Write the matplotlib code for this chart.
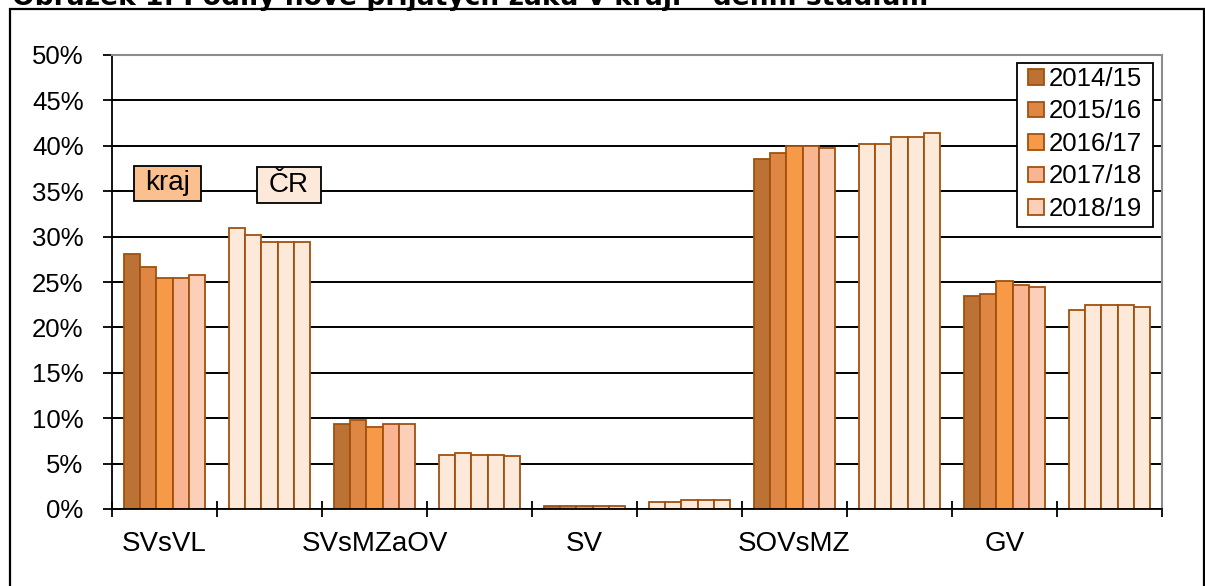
import matplotlib
matplotlib.use("Agg")
import matplotlib.pyplot as plt
from matplotlib.patches import Rectangle, Patch
import numpy as np

years = ["2014/15", "2015/16", "2016/17", "2017/18", "2018/19"]
categories = ["SVsVL", "SVsMZaOV", "SV", "SOVsMZ", "GV"]
# values in percent, one list per category, one value per school year
kraj = {
    "SVsVL":    [28.1, 26.6, 25.4, 25.4, 25.8],
    "SVsMZaOV": [9.4, 9.8, 9.0, 9.4, 9.4],
    "SV":       [0.35, 0.35, 0.35, 0.35, 0.35],
    "SOVsMZ":   [38.6, 39.2, 40.0, 40.0, 39.8],
    "GV":       [23.5, 23.7, 25.1, 24.7, 24.5],
}
cr = {
    "SVsVL":    [31.0, 30.2, 29.4, 29.4, 29.4],
    "SVsMZaOV": [6.0, 6.2, 6.0, 6.0, 5.8],
    "SV":       [0.8, 0.8, 1.0, 1.0, 1.0],
    "SOVsMZ":   [40.2, 40.2, 41.0, 41.0, 41.4],
    "GV":       [21.9, 22.5, 22.5, 22.5, 22.3],
}
yticks = [0, 5, 10, 15, 20, 25, 30, 35, 40, 45, 50]
ytick_labels = [f"{v}%" for v in yticks]

year_colors = ["#BC7235", "#DE8644", "#F79A48", "#F9B591", "#FCCFB9"]
cr_color = "#FDE9DA"
edge = "#A0500F"

W, H = 1205, 586
fig = plt.figure(figsize=(W / 100, H / 100), dpi=100)
plt.rcParams["font.family"] = ["Liberation Sans", "DejaVu Sans"]
FS = 18.5
FS_X = 20

L, R, T, B = 112, 1162, 55, 509
ax = fig.add_axes([L / W, 1 - B / H, (R - L) / W, (B - T) / H])

def ax_x(px):
    return (px - L) / (R - L)

def ax_y(py):
    return (B - py) / (B - T)

n = len(years)
group_w = 0.78
bw = group_w / n
for ci, cat in enumerate(categories):
    for src, base in ((kraj, 2 * ci), (cr, 2 * ci + 1)):
        for yi in range(n):
            x = base - group_w / 2 + bw * (yi + 0.5)
            col = year_colors[yi] if src is kraj else cr_color
            ax.bar(x, src[cat][yi], width=bw, color=col, edgecolor=edge,
                   linewidth=1.3, zorder=3)

ax.set_xlim(-0.5, 2 * len(categories) - 0.5)
ax.set_ylim(0, 50)
ax.set_yticks(yticks)
ax.set_yticklabels(ytick_labels, fontsize=FS)
ax.set_xticks(np.arange(-0.5, 2 * len(categories), 1.0))
ax.set_xticklabels([])
ax.set_xticks(np.arange(0, 2 * len(categories), 2), minor=True)
ax.set_xticklabels(categories, minor=True, fontsize=FS_X)
ax.tick_params(axis="x", which="minor", length=0, pad=16)
ax.tick_params(axis="x", which="major", direction="inout", length=12, width=1.3)
ax.tick_params(axis="y", direction="inout", length=13, width=1.3, pad=14)

ax.yaxis.grid(True, color="black", linewidth=1.4, zorder=0)
ax.set_axisbelow(True)
for s in ("left", "bottom"):
    ax.spines[s].set_color("black")
    ax.spines[s].set_linewidth(1.3)
    ax.spines[s].set_zorder(4)
for s in ("top", "right"):
    ax.spines[s].set_color("#8C8C8C")
    ax.spines[s].set_linewidth(1.5)
    ax.spines[s].set_zorder(4)

# annotation boxes
ax.add_patch(Rectangle((-0.290, 33.9), 0.635, 3.9, facecolor="#FAC090",
                       edgecolor="black", linewidth=1.3, zorder=5))
ax.text(0.028, 35.85, "kraj", fontsize=FS_X, ha="center", va="center", zorder=6)
ax.add_patch(Rectangle((0.878, 33.7), 0.612, 4.0, facecolor=cr_color,
                       edgecolor="black", linewidth=1.3, zorder=5))
ax.text(1.184, 35.7, "ČR", fontsize=FS_X, ha="center", va="center", zorder=6)

# legend frame + legend
ax.add_patch(Rectangle((ax_x(1017.3), ax_y(227.3)), ax_x(1152.7) - ax_x(1017.3),
                       ax_y(63.3) - ax_y(227.3), transform=ax.transAxes,
                       facecolor="white", edgecolor="black", linewidth=1.3,
                       zorder=6))
handles = [Patch(facecolor=c, edgecolor=edge, linewidth=1.3) for c in year_colors]
leg = ax.legend(handles, years, loc="upper left",
                bbox_to_anchor=(ax_x(1028), ax_y(67.0)),
                borderaxespad=0, borderpad=0, fontsize=FS, frameon=False,
                handlelength=0.62, handleheight=0.55, handletextpad=0.2,
                labelspacing=0.33)
leg.set_zorder(7)

# outer frame
fig.add_artist(Rectangle((10 / W, -0.05), (1203.5 - 10) / W, 1.05 - 9.5 / H,
                         transform=fig.transFigure, fill=False,
                         edgecolor="black", linewidth=1.6))

title = fig.text(12 / W, 1 - 5 / H,
                 "Obrázek 1: Podíly nově přijatých žáků v kraji – denní studium",
                 fontsize=16, fontweight="bold", family="DejaVu Sans",
                 ha="left", va="baseline")
fig.canvas.draw()
w = title.get_window_extent().width
title.set_fontsize(16 * 918 / w)

fig.savefig("out.png", dpi=100)
